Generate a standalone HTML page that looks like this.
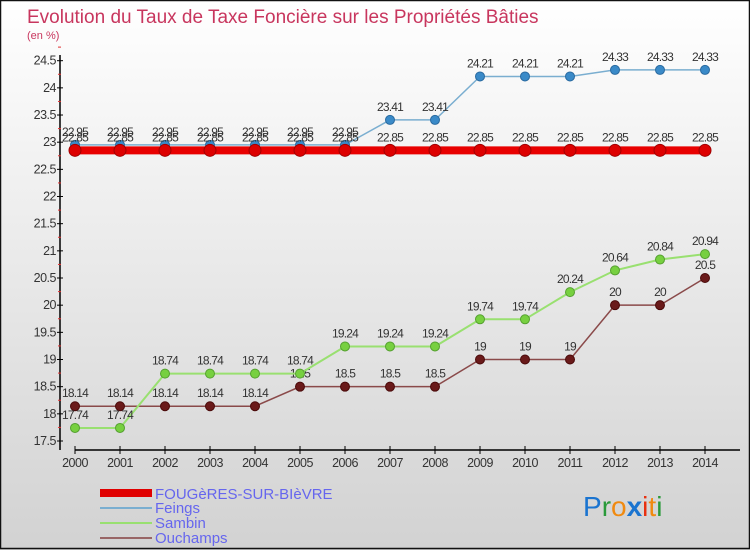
<!DOCTYPE html>
<html><head><meta charset="utf-8"><style>
body{margin:0;width:750px;height:550px;overflow:hidden;font-family:"Liberation Sans",sans-serif}
</style></head><body>
<svg width="750" height="550" xmlns="http://www.w3.org/2000/svg">
<defs><linearGradient id="bg" x1="0" y1="0" x2="0" y2="1"><stop offset="0" stop-color="#ffffff"/><stop offset="1" stop-color="#d2d2d2"/></linearGradient></defs>
<rect x="0" y="0" width="750" height="550" fill="url(#bg)"/>
<rect x="0.5" y="0.5" width="749" height="548" fill="none" stroke="#111" stroke-width="1.5"/>
<text x="27" y="23" font-size="19" fill="#c8365e">Evolution du Taux de Taxe Foncière sur les Propriétés Bâties</text>
<text x="27" y="39" font-size="11" fill="#c8365e">(en %)</text>
<g id="axes"></g>
<g id="series"></g>
<g id="legend">
<rect x="100" y="489" width="52" height="8" fill="#e00000"/>
<text x="155" y="499" font-size="15" fill="#6666ee">FOUGèRES-SUR-BIèVRE</text>
<rect x="100" y="507" width="52" height="2" fill="#7aaed0"/>
<text x="155" y="513" font-size="15" fill="#6666ee">Feings</text>
<rect x="100" y="522" width="52" height="2" fill="#99e070"/>
<text x="155" y="528" font-size="15" fill="#6666ee">Sambin</text>
<rect x="100" y="537" width="52" height="2" fill="#996666"/>
<text x="155" y="543" font-size="15" fill="#6666ee">Ouchamps</text>
</g>
<text x="583" y="516" font-size="28" font-family="'Liberation Sans',sans-serif"><tspan fill="#1a74d0">P</tspan><tspan fill="#2a9a3a">r</tspan><tspan fill="#f08a10">o</tspan><tspan fill="#1a74d0" font-weight="bold">x</tspan><tspan fill="#e83010">i</tspan><tspan fill="#f08a10">t</tspan><tspan fill="#2a9a3a">i</tspan></text>
</svg>
<script>
const years=[2000,2001,2002,2003,2004,2005,2006,2007,2008,2009,2010,2011,2012,2013,2014];
const fougeres=[22.85,22.85,22.85,22.85,22.85,22.85,22.85,22.85,22.85,22.85,22.85,22.85,22.85,22.85,22.85];
const feings=[22.95,22.95,22.95,22.95,22.95,22.95,22.95,23.41,23.41,24.21,24.21,24.21,24.33,24.33,24.33];
const sambin=[17.74,17.74,18.74,18.74,18.74,18.74,19.24,19.24,19.24,19.74,19.74,20.24,20.64,20.84,20.94];
const ouchamps=[18.14,18.14,18.14,18.14,18.14,18.5,18.5,18.5,18.5,19,19,19,20,20,20.5];
const yTicks=[17.5,18,18.5,19,19.5,20,20.5,21,21.5,22,22.5,23,23.5,24,24.5];
const NS="http://www.w3.org/2000/svg";
const x=i=>75+i*45;
const y=v=>441-(v-17.5)*54.33;
function mk(tag,attrs,parent){const e=document.createElementNS(NS,tag);for(const k in attrs)e.setAttribute(k,attrs[k]);parent.appendChild(e);return e;}
const ax=document.getElementById('axes');
let e=mk('line',{x1:60,y1:55,x2:60,y2:450,stroke:'#000','stroke-width':1.5},ax);


e=mk('line',{x1:75,y1:450,x2:740,y2:450,stroke:'#000','stroke-width':1.5},ax);


yTicks.forEach(t=>{
 mk('line',{x1:57,y1:y(t),x2:63,y2:y(t),stroke:'#000'},ax);
 mk('line',{x1:58,y1:y(t+0.25),x2:61,y2:y(t+0.25),stroke:'#e03030'},ax);
 const tx=mk('text',{x:56,y:y(t)+4,'font-size':12.5,fill:'#333','text-anchor':'end','letter-spacing':'-0.5'},ax);
 tx.textContent=t;
 
 
});
years.forEach((yr,i)=>{
 mk('line',{x1:x(i),y1:446,x2:x(i),y2:454,stroke:'#000'},ax);
 const tx=mk('text',{x:x(i),y:467,'font-size':12.5,fill:'#333','text-anchor':'middle','letter-spacing':'-0.5'},ax);
 tx.textContent=yr;
 
 
});
const sg=document.getElementById('series');
function series(name,data,color,width,r,fill,stroke,lblColor){
 const g=mk('g',{},sg);
 
 
 const p=mk('polyline',{points:data.map((v,i)=>x(i)+','+y(v)).join(' '),fill:'none',stroke:color,'stroke-width':width},g);
 
 
 data.forEach((v,i)=>{
  const c=mk('circle',{cx:x(i),cy:y(v),r:r,fill:fill,stroke:stroke,'stroke-width':1},g);
  
  
  const t=mk('text',{x:x(i),y:y(v)-9,'font-size':12,fill:lblColor,'text-anchor':'middle','letter-spacing':'-0.8'},g);
  t.textContent=v;
  
  
 });
}
series('ouchamps',ouchamps,'#8a4a4a',1.5,4.5,'#6a1a1a','#4a0a0a','#333');
series('sambin',sambin,'#99e070',2,4.5,'#77d040','#55a030','#333');
series('feings',feings,'#7aaed0',1.5,4.5,'#3a8ac8','#2a6aa0','#333');
series('fougeres',fougeres,'#e80000',8,6,'#dd0000','#a00000','#333');
</script>
</body></html>
